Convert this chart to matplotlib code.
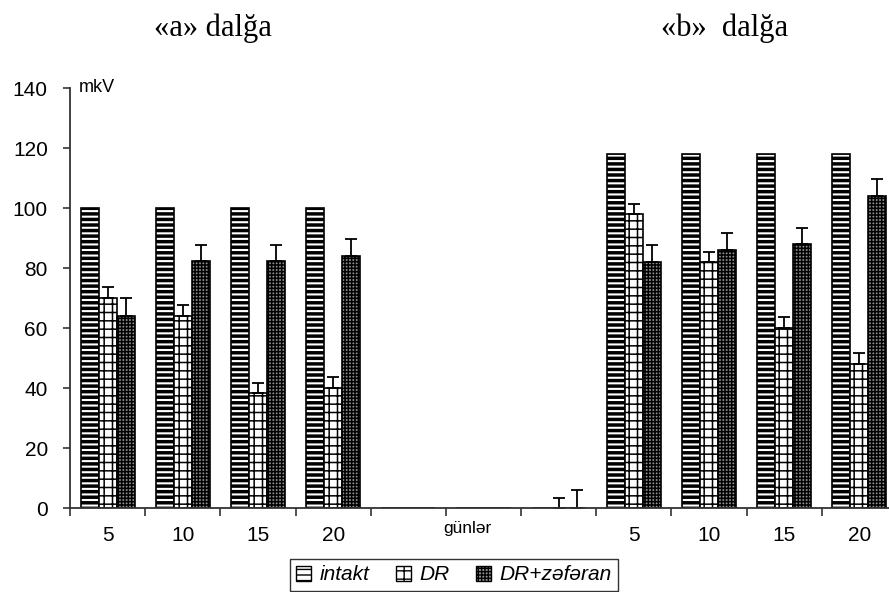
import numpy as np
import matplotlib.pyplot as plt
import matplotlib.transforms as mtransforms
from matplotlib.patches import Patch

plt.rcParams['font.family'] = ['Liberation Sans', 'DejaVu Sans']

# gün kateqoriyaları (boş olanlar iki dalğa arasındakı boşluqdur)
days = ['5', '10', '15', '20', '', 'günlər', '', '5', '10', '15', '20']
intakt = [100, 100, 100, 100, 0, 0, 0, 118, 118, 118, 118]
dr = [70, 64, 38.4, 40, 0, 0, 0, 98, 82, 60, 48]
dr_err = [3.6, 3.6, 3.2, 3.7, 0, 0, 3.4, 3.2, 3.2, 3.7, 3.7]
drz = [64, 82.4, 82.4, 84, 0, 0, 0, 82, 86, 88, 104]
drz_err = [6, 5.2, 5.2, 5.8, 0, 0, 6, 5.6, 5.6, 5.4, 5.8]
series = ['intakt', 'DR', 'DR+zəfəran']
waves = ['«a» dalğa', '«b»  dalğa']

fig = plt.figure(figsize=(8.89, 5.92), dpi=100)
ax = fig.add_axes([70 / 889, 84 / 592, 827 / 889, 420 / 592])

x = np.arange(len(days))
w = 0.24
styles = [
    dict(hatch='---', facecolor='white', hlw=2.5),
    dict(hatch='++', facecolor='white', hlw=1.1),
    dict(hatch='+++++', facecolor='#909090', hlw=1.1),
]


def draw(vals, offset, st):
    bars = ax.bar(x + offset, vals, w, color=st['facecolor'], edgecolor='black',
                  linewidth=1.2, hatch=st['hatch'])
    for b in bars:
        if hasattr(b, 'set_hatch_linewidth'):
            b.set_hatch_linewidth(st['hlw'])
    return bars


plt.rcParams['hatch.linewidth'] = 1.0
draw(intakt, -w, styles[0])
draw(dr, 0, styles[1])
draw(drz, w, styles[2])

for vals, errs, off in [(dr, dr_err, 0), (drz, drz_err, w)]:
    v = np.array(vals, float)
    e = np.array(errs, float)
    m = e > 0
    ax.errorbar(x[m] + off, v[m], yerr=[np.zeros(m.sum()), e[m]], fmt='none',
                ecolor='black', elinewidth=1.3, capsize=4, capthick=1.3)

ax.set_xlim(-0.5, len(days) - 0.5)
ax.set_ylim(0, 140)
ax.set_yticks(np.arange(0, 141, 20))
for s in ['top', 'right']:
    ax.spines[s].set_visible(False)
for s in ['left', 'bottom']:
    ax.spines[s].set_color('#333333')
    ax.spines[s].set_linewidth(1.3)

ax.tick_params(axis='y', direction='out', length=5, width=1.2, color='#333333',
               labelsize=15, pad=11)
ax.set_xticks(x, days)
ax.set_xticks(np.arange(-0.5, len(days), 1), minor=True)
ax.tick_params(axis='x', which='major', length=0, labelsize=15, pad=13)
ax.tick_params(axis='x', which='minor', direction='out', length=6, width=1.2,
               color='#333333')
for lab in ax.get_xticklabels():
    if lab.get_text() == 'günlər':
        lab.set_fontsize(12.5)
        lab.set_transform(lab.get_transform() + mtransforms.ScaledTranslation(
            -0.16, 0.05, fig.dpi_scale_trans))

ax.annotate('mkV', xy=(0, 140), xycoords=('axes fraction', 'data'),
            xytext=(6, 0), textcoords='offset points', ha='left', va='center',
            fontsize=13)

fig.text(213 / 889, 1 - 28 / 592, waves[0], ha='center', va='center',
         fontsize=22, family='Liberation Serif')
fig.text(725 / 889, 1 - 28 / 592, waves[1], ha='center', va='center',
         fontsize=22, family='Liberation Serif')

handles = []
for st in styles:
    p = Patch(facecolor=st['facecolor'], edgecolor='black', hatch=st['hatch'],
              linewidth=1.0)
    if hasattr(p, 'set_hatch_linewidth'):
        p.set_hatch_linewidth(st['hlw'])
    handles.append(p)
leg = fig.legend(handles, series, loc='center', bbox_to_anchor=(454 / 889, 1 - 575 / 592),
                 ncol=3, frameon=True, fancybox=False, edgecolor='black',
                 handlelength=0.7, handleheight=0.7, handletextpad=0.4,
                 columnspacing=1.3, borderpad=0.3, prop=dict(size=15, style='italic'))
leg.get_frame().set_linewidth(1.0)

fig.savefig('out.png', dpi=100)
